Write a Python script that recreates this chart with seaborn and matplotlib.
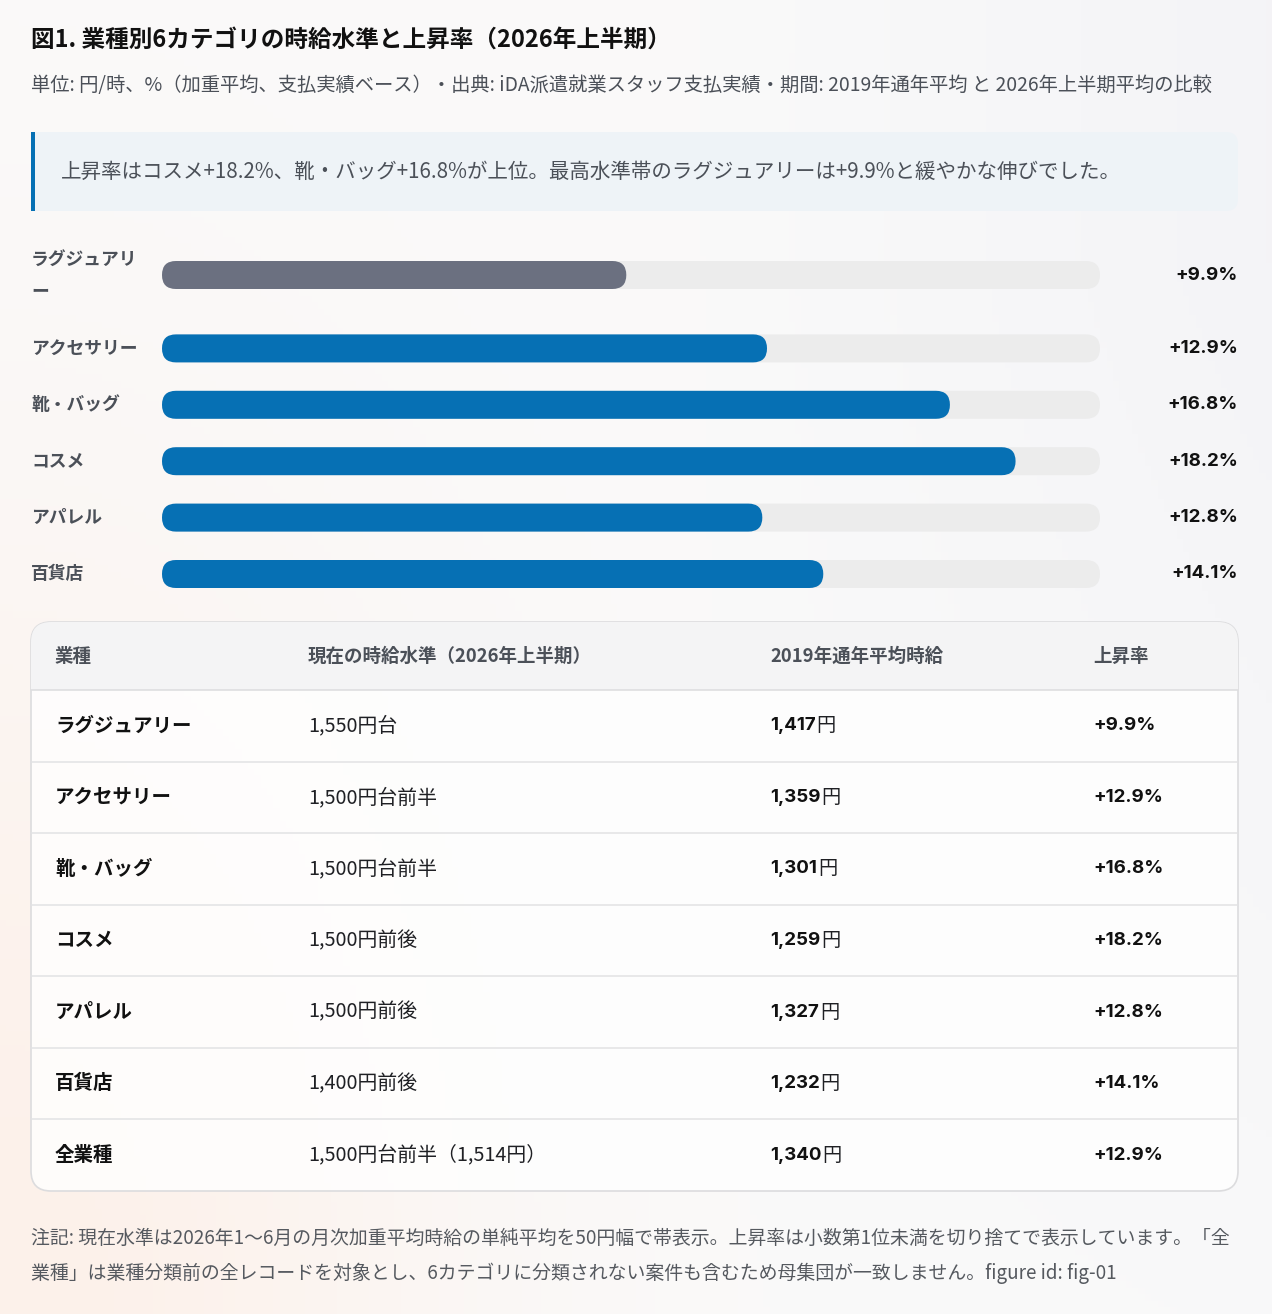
import numpy as np
import pandas as pd
import matplotlib
matplotlib.use("Agg")
import matplotlib.pyplot as plt
from matplotlib.patches import FancyBboxPatch, Rectangle
import seaborn as sns

# ---- data ----
categories = ["ラグジュアリー", "アクセサリー", "靴・バッグ", "コスメ", "アパレル", "百貨店"]
rates = [9.9, 12.9, 16.8, 18.2, 12.8, 14.1]
highlight = "ラグジュアリー"
scale_max = 20

table_headers = ["業種", "現在の時給水準（2026年上半期）", "2019年通年平均時給", "上昇率"]
table_names = categories + ["全業種"]
current_levels = ["1,550円台", "1,500円台前半", "1,500円台前半", "1,500円前後",
                  "1,500円前後", "1,400円前後", "1,500円台前半（1,514円）"]
wage_2019 = [1417, 1359, 1301, 1259, 1327, 1232, 1340]
table_rates = rates + [12.9]

title = "図1. 業種別6カテゴリの時給水準と上昇率（2026年上半期）"
subtitle = ("単位: 円/時、%（加重平均、支払実績ベース）・出典: iDA派遣就業スタッフ支払実績・"
            "期間: 2019年通年平均 と 2026年上半期平均の比較")
callout = "上昇率はコスメ+18.2%、靴・バッグ+16.8%が上位。最高水準帯のラグジュアリーは+9.9%と緩やかな伸びでした。"
notes = ["注記: 現在水準は2026年1〜6月の月次加重平均時給の単純平均を50円幅で帯表示。上昇率は小数第1位未満を切り捨てで表示しています。「全",
         "業種」は業種分類前の全レコードを対象とし、6カテゴリに分類されない案件も含むため母集団が一致しません。figure id: fig-01"]

# ---- style ----
sns.set_theme(style="white")
plt.rcParams["font.family"] = ["Noto Sans CJK JP", "DejaVu Sans"]
NUM = ["Inter", "Noto Sans CJK JP"]
BLUE = "#0670b4"
GREY = "#6b7080"
TRACK = "#ececec"

W, H = 1272, 1314
fig = plt.figure(figsize=(W / 100, H / 100), dpi=100)

# background canvas in pixel coords
bg = fig.add_axes([0, 0, 1, 1])
yy, xx = np.mgrid[0:1:200j, 0:1:200j]
warm = np.exp(-((xx ** 2) / 0.12 + ((yy - 1.0) ** 2) / 0.35))
cool = np.clip((xx - 0.55) / 0.45, 0, 1) * np.clip(1.2 - yy, 0, 1)
img = (np.ones((200, 200, 3)) * 250 / 255
       + warm[..., None] * np.array([3, -9, -16]) / 255
       + cool[..., None] * np.array([-6, -6, -3]) / 255)
bg.imshow(np.clip(img, 0, 1), extent=(0, W, H, 0), aspect="auto", zorder=0)
bg.set_xlim(0, W)
bg.set_ylim(H, 0)
bg.axis("off")

# header texts
bg.text(31, 40, title, size=17, weight="bold", color="#111111", va="center")
bg.text(31, 85, subtitle, size=13.9, color="#4b5058", va="center")

# callout
bg.add_patch(FancyBboxPatch((31, 132), 1207, 79, boxstyle="round,pad=0,rounding_size=12",
                            fc="#eef3f7", ec="none", zorder=1))
bg.add_patch(Rectangle((31, 132), 30, 79, fc="#eef3f7", ec="none", zorder=1))
bg.add_patch(Rectangle((31, 132), 4, 79, fc=BLUE, ec="none", zorder=2))
bg.text(61, 172, callout, size=14.75, color="#4b5058", va="center", zorder=3)

# ---- bar chart ----
bar_top, bar_bot = 240, 600
pitch, wrap_extra, BAR_H = 56.4, 17, 28
centers, y = [], 275
for c in categories:
    centers.append(y)
    y += pitch + (wrap_extra if len(c) > 6 else 0)

df = pd.DataFrame({"category": categories, "rate": rates,
                   "track": [scale_max] * len(categories), "ypos": centers})
palette = {c: (GREY if c == highlight else BLUE) for c in categories}

bx = fig.add_axes([162 / W, 1 - bar_bot / H, 938 / W, (bar_bot - bar_top) / H])
sns.barplot(data=df, x="track", y="ypos", orient="h", native_scale=True,
            color=TRACK, saturation=1, errorbar=None, ax=bx)
sns.barplot(data=df, x="rate", y="ypos", hue="category", palette=palette, orient="h",
            native_scale=True, saturation=1, errorbar=None, legend=False, ax=bx)
bx.set_xlim(0, scale_max)
bx.set_ylim(bar_bot, bar_top)

# turn the bars into pills
sx = scale_max / 938
for p in list(bx.patches):
    x0, w = p.get_x(), p.get_width()
    yc = p.get_y() + p.get_height() / 2
    fc = p.get_facecolor()
    p.remove()
    bx.add_patch(FancyBboxPatch((x0, yc - BAR_H / 2), w, BAR_H,
                                boxstyle=f"round,pad=0,rounding_size={BAR_H / 2 * sx}",
                                mutation_aspect=1 / sx, fc=fc, ec="none"))
bx.axis("off")

for c, r, yc in zip(categories, rates, centers):
    label = c if len(c) <= 6 else c[:6] + "\n" + c[6:]
    bg.text(31, yc, label, size=12.8, weight="bold", color="#4b5058", va="center",
            linespacing=1.95)
    bg.text(1238, yc, f"+{r:.1f}%", size=13.5, weight="bold", family=NUM,
            color="#111111", ha="right", va="center")

# ---- table ----
tx0, tx1, ty0, ty1, head_h = 31, 1238, 622, 1191, 68
frame = FancyBboxPatch((tx0, ty0), tx1 - tx0, ty1 - ty0, boxstyle="round,pad=0,rounding_size=20",
                       fc=(1, 1, 1, 0.8), ec="#dcdcde", lw=1.2, zorder=1)
bg.add_patch(frame)
head = Rectangle((tx0, ty0), tx1 - tx0, head_h, fc="#f4f4f5", ec="none", zorder=1.5)
bg.add_patch(head)
head.set_clip_path(frame)
col_x = [55, 308, 770, 1093]
for x, h in zip(col_x, table_headers):
    bg.text(x, ty0 + head_h / 2, h, size=13.3, weight="bold", color="#4b5058",
            va="center", zorder=3)

row_h = (ty1 - ty0 - head_h) / len(table_names)
bg.plot([tx0, tx1], [ty0 + head_h] * 2, color="#dedee0", lw=1.2, zorder=2)
fig.canvas.draw()
rend = fig.canvas.get_renderer()
for i, (n, lv, w19, r) in enumerate(zip(table_names, current_levels, wage_2019, table_rates)):
    yc = ty0 + head_h + row_h * (i + 0.5)
    if i > 0:
        bg.plot([tx0, tx1], [ty0 + head_h + row_h * i] * 2, color="#e2e2e4", lw=1.1, zorder=2)
    bg.text(col_x[0], yc, n, size=14, weight="bold", color="#111111", va="center", zorder=3)
    bg.text(col_x[1], yc, lv, size=14.3, color="#1f2024", va="center", zorder=3)
    t = bg.text(col_x[2], yc, f"{w19:,}", size=13.5, weight="bold", family=NUM,
                color="#111111", va="center", zorder=3)
    x_end = bg.transData.inverted().transform((t.get_window_extent(rend).x1, 0))[0]
    bg.text(x_end + 1, yc, "円", size=13.8, color="#1f2024", va="center", zorder=3)
    bg.text(col_x[3], yc, f"+{r:.1f}%", size=13.5, weight="bold", family=NUM,
            color="#111111", va="center", zorder=3)

# ---- notes ----
for k, line in enumerate(notes):
    bg.text(31, 1238 + 35 * k, line, size=13.6, color="#55595f", va="center")

fig.savefig("out.png", dpi=100)
